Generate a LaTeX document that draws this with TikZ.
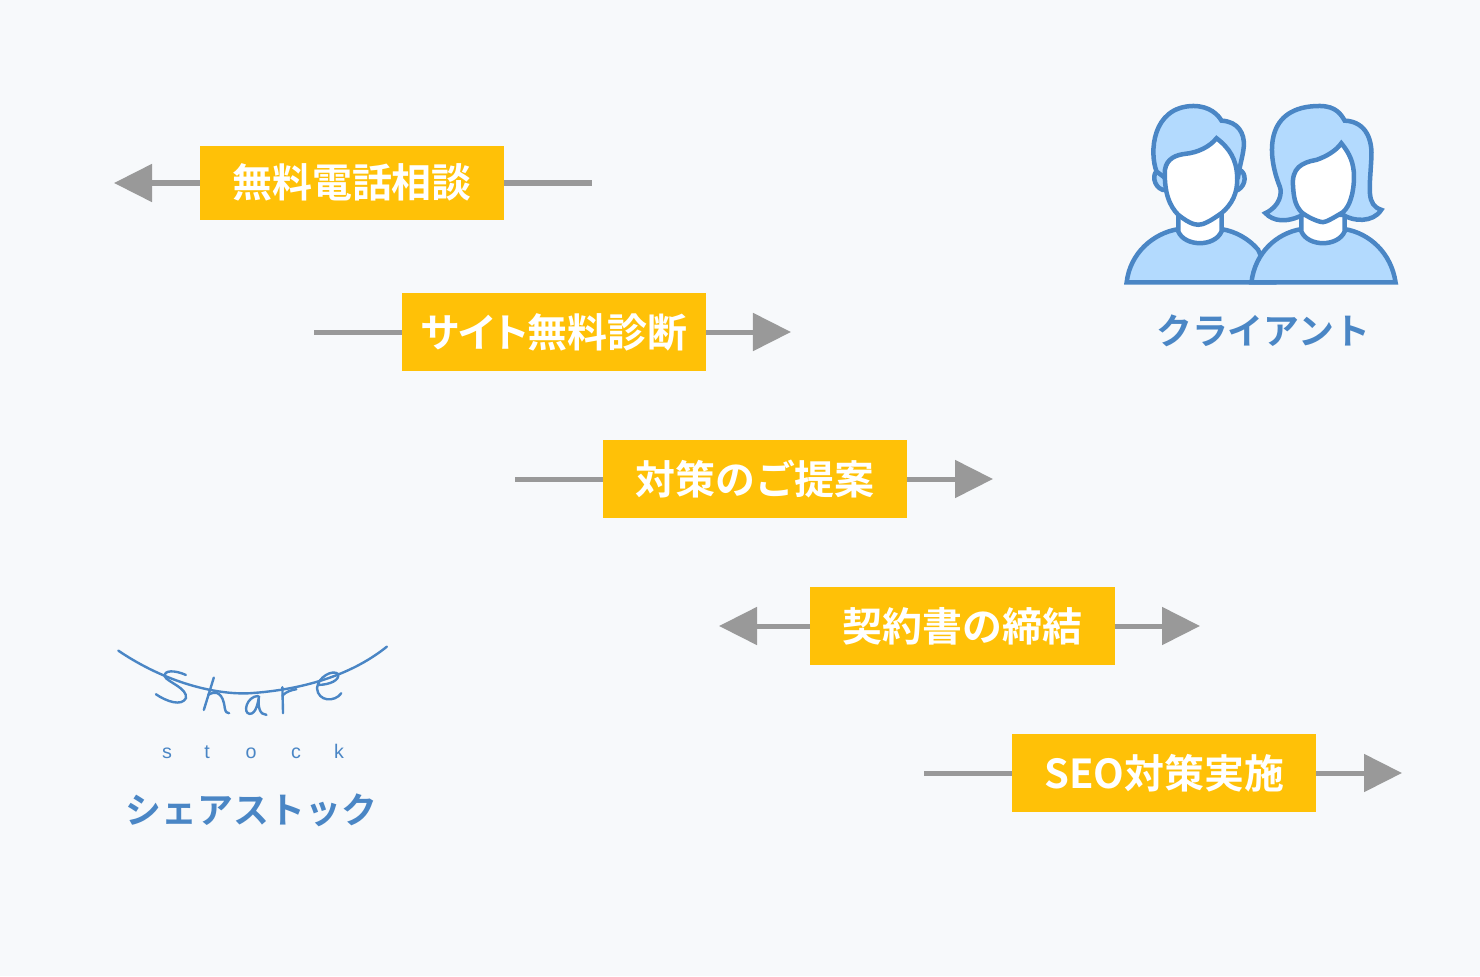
\documentclass[tikz,border=0pt]{standalone}
\usepackage{fontspec}
\usepackage{tikz}
\usetikzlibrary{arrows.meta}
\newfontfamily\cjkbold{Noto Sans CJK JP Bold}
\newfontfamily\cjktight[RawFeature=+palt]{Noto Sans CJK JP Bold}
\newfontfamily\stockfont{Liberation Sans}
\definecolor{pagebg}{HTML}{F7F9FB}
\definecolor{amber}{HTML}{FFC107}
\definecolor{flowgray}{HTML}{999999}
\definecolor{iconblue}{HTML}{4A86C5}
\definecolor{iconfill}{HTML}{B3DAFE}
\tikzset{
    stepbox/.style={fill=amber, text=white, font=\cjkbold\fontsize{11.35}{13}\selectfont, minimum width=3.04cm, minimum height=0.78cm, inner sep=0pt, outer sep=0pt},
    flow/.style={draw=flowgray, line width=0.05cm, -{Triangle[length=0.38cm,width=0.37cm,fill=flowgray]}},
    flowline/.style={draw=flowgray, line width=0.05cm},
    rolelabel/.style={text=iconblue, font=\cjkbold\fontsize{10.2}{12}\selectfont, inner sep=0pt},
    icon/.style={draw=iconblue, line width=0.045cm, line join=miter, miter limit=3},
    pen/.style={draw=iconblue, line width=0.024cm, line cap=round}
}
\begin{document}
\begin{tikzpicture}[x=0.01cm, y=-0.01cm]
    \useasboundingbox[fill=pagebg] (0,0) rectangle (1480,976);

    \coordinate (call tip) at (114,183);
    \coordinate (call end) at (592,183);
    \coordinate (check start) at (314,332);
    \coordinate (check tip) at (791,332);
    \coordinate (proposal start) at (515,479);
    \coordinate (proposal tip) at (993,479);
    \coordinate (contract left) at (719,626);
    \coordinate (contract right) at (1200,626);
    \coordinate (seo start) at (924,773);
    \coordinate (seo tip) at (1402,773);

    \node[stepbox, minimum height=0.74cm] (free call) at (352,183) {\raisebox{1.14pt}{無料電話相談}};
    \node[stepbox, font=\cjktight\fontsize{11.35}{13}\selectfont] (free check) at (554,332) {サイト無料診断};
    \node[stepbox] (proposal) at (755,479) {対策のご提案};
    \node[stepbox] (contract) at (962.5,626) {契約書の締結};
    \node[stepbox] (seo work) at (1164,773) {\raisebox{-1.14pt}{SEO対策実施}};

    \draw[flow] (free call) -- (call tip);
    \draw[flowline] (free call) -- (call end);
    \draw[flowline] (check start) -- (free check);
    \draw[flow] (free check) -- (check tip);
    \draw[flowline] (proposal start) -- (proposal);
    \draw[flow] (proposal) -- (proposal tip);
    \draw[flow] (contract) -- (contract left);
    \draw[flow] (contract) -- (contract right);
    \draw[flowline] (seo start) -- (seo work);
    \draw[flow] (seo work) -- (seo tip);

    % client icon
    \begin{scope}[shift={(1110,90)}, x=0.00333cm, y=-0.00333cm]
        % man
        \draw[icon, fill=iconfill] (50,578) .. controls (60,490) and (130,430) .. (205,418) -- (335,418) .. controls (380,425) and (420,450) .. (445,480) -- (490,578) -- cycle;
        \draw[icon, fill=white] (205,360) -- (205,425) .. controls (225,472) and (315,472) .. (335,425) -- (335,360) -- cycle;
        \draw[icon, fill=iconfill] (145,240) .. controls (125,250) and (130,290) .. (158,300) -- (385,300) .. controls (410,285) and (410,250) .. (390,240) -- cycle;
        \draw[icon, fill=iconfill] (140,245) .. controls (118,190) and (125,50) .. (250,48) .. controls (300,48) and (325,75) .. (335,92) .. controls (385,95) and (405,130) .. (402,170) .. controls (399,200) and (390,225) .. (385,260) -- (160,260) -- cycle;
        \draw[icon, fill=white] (165,240) .. controls (170,205) and (200,195) .. (225,192) .. controls (265,188) and (300,170) .. (320,145) .. controls (360,175) and (380,210) .. (382,260) .. controls (385,310) and (365,345) .. (335,370) .. controls (300,395) and (280,405) .. (265,405) .. controls (250,405) and (230,395) .. (205,375) .. controls (180,350) and (162,310) .. (165,240) -- cycle;
        % woman
        \draw[icon, fill=iconfill] (425,578) .. controls (435,490) and (500,430) .. (575,418) -- (705,418) .. controls (780,430) and (845,490) .. (858,578) -- cycle;
        \draw[icon, fill=white] (575,360) -- (575,425) .. controls (595,472) and (685,472) .. (705,425) -- (705,360) -- cycle;
        \draw[icon, fill=iconfill] (467,370) .. controls (510,350) and (518,310) .. (510,290) .. controls (470,190) and (465,48) .. (630,48) .. controls (680,48) and (695,75) .. (705,92) .. controls (770,95) and (790,150) .. (785,210) .. controls (780,300) and (770,345) .. (815,360) .. controls (790,400) and (730,395) .. (700,375) -- (580,375) .. controls (530,400) and (490,395) .. (467,370) -- cycle;
        \draw[icon, fill=white] (550,290) .. controls (545,235) and (575,218) .. (620,210) .. controls (650,200) and (680,182) .. (695,160) .. controls (720,190) and (733,220) .. (733,260) .. controls (733,310) and (720,350) .. (700,367) .. controls (670,385) and (650,397) .. (640,397) .. controls (625,397) and (590,380) .. (575,367) .. controls (555,345) and (552,320) .. (550,290) -- cycle;
    \end{scope}
    \node[rolelabel] (client label) at (1263,331) {クライアント};

    % logo
    \begin{scope}[shift={(100,630)}, x=0.00333cm, y=-0.00333cm]
        \draw[pen] (55,62) .. controls (200,160) and (350,195) .. (450,190) .. controls (600,180) and (750,140) .. (862,50);
        \draw[pen] (258,135) .. controls (225,120) and (190,120) .. (195,140) .. controls (200,155) and (265,175) .. (258,205) .. controls (245,230) and (200,215) .. (168,193);
        \draw[pen] (342,143) -- (312,240);
        \draw[pen] (325,195) .. controls (350,180) and (370,190) .. (375,235) .. controls (377,247) and (382,250) .. (388,250);
        \draw[pen] (475,198) .. controls (440,200) and (428,250) .. (450,252) .. controls (470,252) and (475,215) .. (478,198) .. controls (473,230) and (480,255) .. (500,255);
        \draw[pen] (548,172) -- (550,250);
        \draw[pen] (548,197) .. controls (560,185) and (575,180) .. (590,178);
        \draw[pen] (655,165) .. controls (690,165) and (722,150) .. (715,132) .. controls (700,118) and (655,140) .. (652,175) .. controls (655,215) and (705,218) .. (725,190);
    \end{scope}
    \foreach \ch/\xpos in {s/167, t/207, o/251, c/296, k/339}
        \node[text=iconblue, inner sep=0pt, anchor=base, font=\stockfont\fontsize{5.6}{7}\selectfont] (stock \ch) at (\xpos,758) {\ch};
    \node[rolelabel] (share label) at (251.5,810) {シェアストック};
\end{tikzpicture}
\end{document}
